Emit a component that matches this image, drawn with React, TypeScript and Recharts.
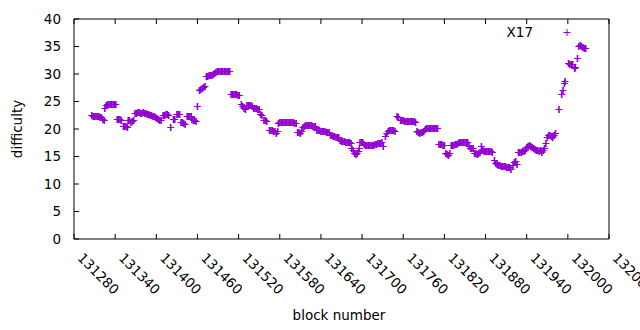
import React from 'react';
import { ScatterChart, Scatter, XAxis, YAxis } from 'recharts';

// block numbers, one line per visible cluster of marks
const blocks: number[] = [
  131306, 131308, 131310, 131312, 131314, 131316, 131318, 131320,
  131322, 131324,
  131325, 131327, 131329, 131331, 131333, 131335, 131337, 131339, 131341,
  131343, 131345, 131347, 131349,
  131352, 131354, 131356, 131358,
  131359, 131361, 131363, 131365, 131367,
  131369, 131371, 131373, 131375, 131377, 131379, 131381, 131383, 131385,
  131387, 131389, 131391, 131393, 131395, 131397, 131399, 131401,
  131403, 131405, 131407,
  131410, 131412, 131414, 131416, 131418,
  131421,
  131425, 131427,
  131430, 131432, 131434,
  131436, 131438, 131440, 131442,
  131445, 131447, 131449, 131451,
  131452, 131454, 131456, 131458,
  131460,
  131463, 131465, 131467, 131469, 131471,
  131473, 131475, 131477, 131479, 131481, 131483, 131485,
  131487, 131489, 131491, 131493, 131495, 131497, 131499, 131501, 131503, 131505, 131507,
  131509, 131511, 131513, 131515, 131517, 131519, 131521,
  131524, 131526, 131528, 131530,
  131532, 131534, 131536, 131538, 131540,
  131542, 131544, 131546, 131548, 131550,
  131552, 131554,
  131557, 131559, 131561,
  131565, 131567, 131569, 131571, 131573, 131575, 131577,
  131578, 131580, 131582, 131584, 131586, 131588, 131590, 131592, 131594, 131596, 131598, 131600, 131602, 131604,
  131606, 131608, 131610, 131612,
  131614, 131616, 131618, 131620, 131622, 131624, 131626, 131628, 131630, 131632,
  131634, 131636, 131638, 131640, 131642, 131644, 131646, 131648, 131650, 131652,
  131654, 131656, 131658, 131660, 131662, 131664, 131666,
  131668, 131670, 131672, 131674, 131676, 131678, 131680, 131682, 131684,
  131685, 131687, 131689, 131691, 131693, 131695,
  131696, 131697, 131699, 131701,
  131703, 131705, 131707, 131709, 131711, 131713, 131715, 131717, 131719, 131721,
  131723, 131725, 131727, 131729, 131731,
  131734, 131736, 131738, 131740, 131742, 131744, 131746, 131748,
  131751, 131753,
  131756, 131758, 131760, 131762, 131764, 131766, 131768, 131770, 131772, 131774, 131776, 131778,
  131780, 131782, 131784, 131786, 131788, 131790,
  131792, 131794, 131796, 131798, 131800, 131802, 131804, 131806, 131808, 131810,
  131812, 131814, 131816, 131818, 131820,
  131822, 131824, 131826, 131828,
  131830, 131832, 131834, 131836, 131838,
  131840, 131842, 131844, 131846, 131848, 131850, 131852, 131854,
  131856, 131858, 131860, 131862,
  131864, 131866, 131868, 131870, 131872, 131874,
  131876, 131878, 131880, 131882, 131884, 131886, 131888, 131890,
  131893, 131895, 131897,
  131899, 131901, 131903, 131905, 131907, 131909, 131911, 131913, 131915, 131917,
  131920, 131922, 131924, 131926,
  131928, 131930, 131932, 131934, 131936, 131938,
  131940, 131942, 131944, 131946, 131948, 131950,
  131952, 131954, 131956, 131958, 131960, 131962, 131964, 131966,
  131968,
  131970, 131972, 131974, 131976, 131978, 131980, 131982,
  131987, 131991, 131993, 131995, 131996,
  132001, 132003, 132005, 132007,
  132010, 132011,
  132014,
  132016, 132018, 132020, 132022, 132024, 132026,
];

const difficulty: number[] = [
  22.6, 22.4, 22.4, 22.3, 22.3, 22.3, 22.2, 22.2,
  21.9, 21.7,
  23.9, 24.4, 24.5, 24.5, 24.5, 24.6, 24.6, 24.6, 24.6,
  21.9, 21.8, 21.8, 21.7,
  20.6, 20.5, 20.5, 20.4,
  21.7, 21.6, 21.3, 21.5, 21.6,
  22.9, 23.0, 23.1, 23.1, 23.0, 23.0, 23.1, 23.0, 22.9,
  22.8, 22.7, 22.6, 22.5, 22.4, 22.3, 22.1, 22.0,
  21.8, 21.7, 21.6,
  22.5, 22.6, 22.7, 22.7, 22.6,
  20.3,
  21.8, 21.9,
  22.7, 22.8, 22.8,
  21.3, 21.2, 21.1, 20.9,
  22.3, 22.4, 22.4, 22.3,
  21.8, 21.7, 21.6, 21.5,
  24.2,
  27.0, 27.2, 27.4, 27.6, 27.8,
  29.6, 29.7, 29.8, 29.8, 29.9, 30.0, 30.1,
  30.4, 30.5, 30.5, 30.5, 30.5, 30.6, 30.6, 30.6, 30.6, 30.5, 30.5,
  26.4, 26.4, 26.3, 26.3, 26.3, 26.2, 26.2,
  24.5, 24.2, 23.8, 23.6,
  24.3, 24.4, 24.4, 24.3, 24.2,
  23.9, 23.8, 23.8, 23.7, 23.7,
  22.7, 22.5,
  21.7, 21.6, 21.5,
  19.9, 19.8, 19.8, 19.7, 19.7, 19.2, 19.6,
  21.1, 21.2, 21.2, 21.2, 21.3, 21.3, 21.2, 21.2, 21.2, 21.2, 21.2, 21.2, 21.1, 21.1,
  19.5, 19.4, 19.3, 19.6,
  20.3, 20.6, 20.7, 20.8, 20.8, 20.7, 20.7, 20.6, 20.6, 20.5,
  19.9, 19.8, 19.8, 19.7, 19.7, 19.6, 19.6, 19.5, 19.5, 19.4,
  19.0, 18.9, 18.8, 18.7, 18.6, 18.6, 18.5,
  18.0, 17.9, 17.8, 17.8, 17.7, 17.7, 17.6, 17.6, 17.5,
  16.6, 16.2, 15.7, 15.5, 15.6, 16.0,
  16.6, 17.7, 17.6, 17.6,
  17.3, 17.1, 17.0, 17.0, 17.0, 17.1, 17.1, 17.1, 17.2, 17.3,
  17.4, 17.5, 17.5, 17.6, 16.9,
  18.8, 19.2, 19.6, 19.8, 19.9, 19.9, 19.8, 19.7,
  22.3, 22.1,
  21.7, 21.6, 21.6, 21.5, 21.4, 21.4, 21.4, 21.4, 21.4, 21.4, 21.4, 21.3,
  19.7, 19.4, 19.3, 19.5, 19.5, 19.6,
  20.0, 20.1, 20.2, 20.2, 20.2, 20.2, 20.1, 20.1, 20.1, 20.1,
  17.3, 17.2, 17.2, 17.1, 17.1,
  15.6, 15.4, 15.3, 15.6,
  17.0, 17.1, 17.1, 17.2, 17.2,
  17.5, 17.6, 17.7, 17.7, 17.7, 17.7, 17.6, 17.6,
  16.9, 16.6, 16.5, 16.5,
  15.7, 15.6, 15.5, 15.6, 15.8, 16.9,
  16.1, 16.0, 16.0, 16.0, 16.0, 16.0, 16.0, 15.9,
  14.4, 13.9, 13.6,
  13.5, 13.4, 13.3, 13.3, 13.2, 13.2, 13.1, 13.1, 13.1, 12.8,
  13.5, 14.0, 14.1, 13.7,
  15.8, 15.9, 15.9, 16.0, 16.0, 16.1,
  16.8, 16.9, 17.0, 16.9, 16.7, 16.5,
  16.4, 16.2, 16.1, 16.0, 16.1, 15.9, 16.2, 16.5,
  17.4,
  18.6, 18.9, 19.0, 18.8, 18.6, 18.9, 19.2,
  23.6, 26.3, 27.0, 28.4, 28.7,
  32.0, 31.9, 31.9, 31.8,
  31.0, 31.3,
  33.0,
  35.1, 35.2, 35.1, 34.9, 34.8, 34.7,
];

const xTicks = [131280, 131340, 131400, 131460, 131520, 131580, 131640, 131700, 131760, 131820, 131880, 131940, 132000, 132060];
const yTicks = [0, 5, 10, 15, 20, 25, 30, 35, 40];

const seriesName = 'X17';
const xTitle = 'block number';
const yTitle = 'difficulty';

const points = blocks.map((block, i) => ({ block, difficulty: difficulty[i] }));

const VIOLET = '#9400d3';
const FONT = '"DejaVu Sans", sans-serif';
const FS = 13.5;
const TICK = 5;

// gnuplot style "+" point
const Plus = (props: any) => {
  const { cx, cy } = props;
  if (cx == null || cy == null) return null;
  const hy = Math.round(cy) + 0.5;
  return (
    <g>
      <path d={`M${cx - 3.5},${hy}H${cx + 3.5}`} stroke={VIOLET} strokeWidth={1} />
      <path d={`M${cx},${hy - 3.5}V${hy + 3.5}`} stroke={VIOLET} strokeWidth={1.6} />
    </g>
  );
};

const BottomTick = ({ x, y, payload }: any) => (
  <g>
    <line x1={x} y1={y} x2={x} y2={y - TICK} stroke="#000" />
    <text
      x={x}
      y={y}
      dx={16}
      dy={12}
      transform={`rotate(45 ${x} ${y})`}
      textAnchor="start"
      fontSize={FS}
      fontFamily={FONT}
      fill="#000"
    >
      {payload.value}
    </text>
  </g>
);

const TopTick = ({ x, y }: any) => <line x1={x} y1={y} x2={x} y2={y + TICK} stroke="#000" />;

const LeftTick = ({ x, y, payload }: any) => (
  <g>
    <line x1={x} y1={y} x2={x + TICK} y2={y} stroke="#000" />
    <text x={x - 13} y={y} dy="0.36em" textAnchor="end" fontSize={FS} fontFamily={FONT} fill="#000">
      {payload.value}
    </text>
  </g>
);

const RightTick = ({ x, y }: any) => <line x1={x} y1={y} x2={x - TICK} y2={y} stroke="#000" />;

const axisLine = { stroke: '#000', strokeWidth: 1 };

export default function App() {
  return (
    <div style={{ position: 'absolute', left: 0, top: 0, width: 640, height: 330, background: '#fff' }}>
      <ScatterChart width={640} height={330} margin={{ top: 18, right: 30, bottom: 90, left: 73 }}>
        <XAxis
          xAxisId="b"
          type="number"
          dataKey="block"
          domain={[131280, 132060]}
          ticks={xTicks}
          interval={0}
          allowDataOverflow
          height={1}
          tickSize={0}
          tickMargin={0}
          tickLine={false}
          axisLine={axisLine}
          tick={<BottomTick />}
        />
        <XAxis
          xAxisId="t"
          orientation="top"
          type="number"
          dataKey="block"
          domain={[131280, 132060]}
          ticks={xTicks}
          interval={0}
          allowDataOverflow
          height={1}
          tickSize={0}
          tickMargin={0}
          tickLine={false}
          axisLine={axisLine}
          tick={<TopTick />}
        />
        <YAxis
          yAxisId="l"
          type="number"
          dataKey="difficulty"
          domain={[0, 40]}
          ticks={yTicks}
          interval={0}
          width={1}
          tickSize={0}
          tickMargin={0}
          tickLine={false}
          axisLine={axisLine}
          tick={<LeftTick />}
        />
        <YAxis
          yAxisId="r"
          orientation="right"
          type="number"
          dataKey="difficulty"
          domain={[0, 40]}
          ticks={yTicks}
          interval={0}
          width={1}
          tickSize={0}
          tickMargin={0}
          tickLine={false}
          axisLine={axisLine}
          tick={<RightTick />}
        />
        <Scatter
          name={seriesName}
          data={points}
          xAxisId="b"
          yAxisId="l"
          shape={Plus}
          isAnimationActive={false}
        />
      </ScatterChart>
      <svg
        width={640}
        height={330}
        style={{ position: 'absolute', left: 0, top: 0, pointerEvents: 'none' }}
        fontFamily={FONT}
        fontSize={FS}
      >
        <text x={339} y={320} textAnchor="middle" fill="#000">
          {xTitle}
        </text>
        <text x={22} y={129} textAnchor="middle" fill="#000" transform="rotate(-90 22 129)">
          {yTitle}
        </text>
        <text x={533} y={37} textAnchor="end" fill="#000">
          {seriesName}
        </text>
        <path d="M563.5,32.5H570.5M567,29V36" stroke={VIOLET} strokeWidth={1} fill="none" />
      </svg>
    </div>
  );
}
